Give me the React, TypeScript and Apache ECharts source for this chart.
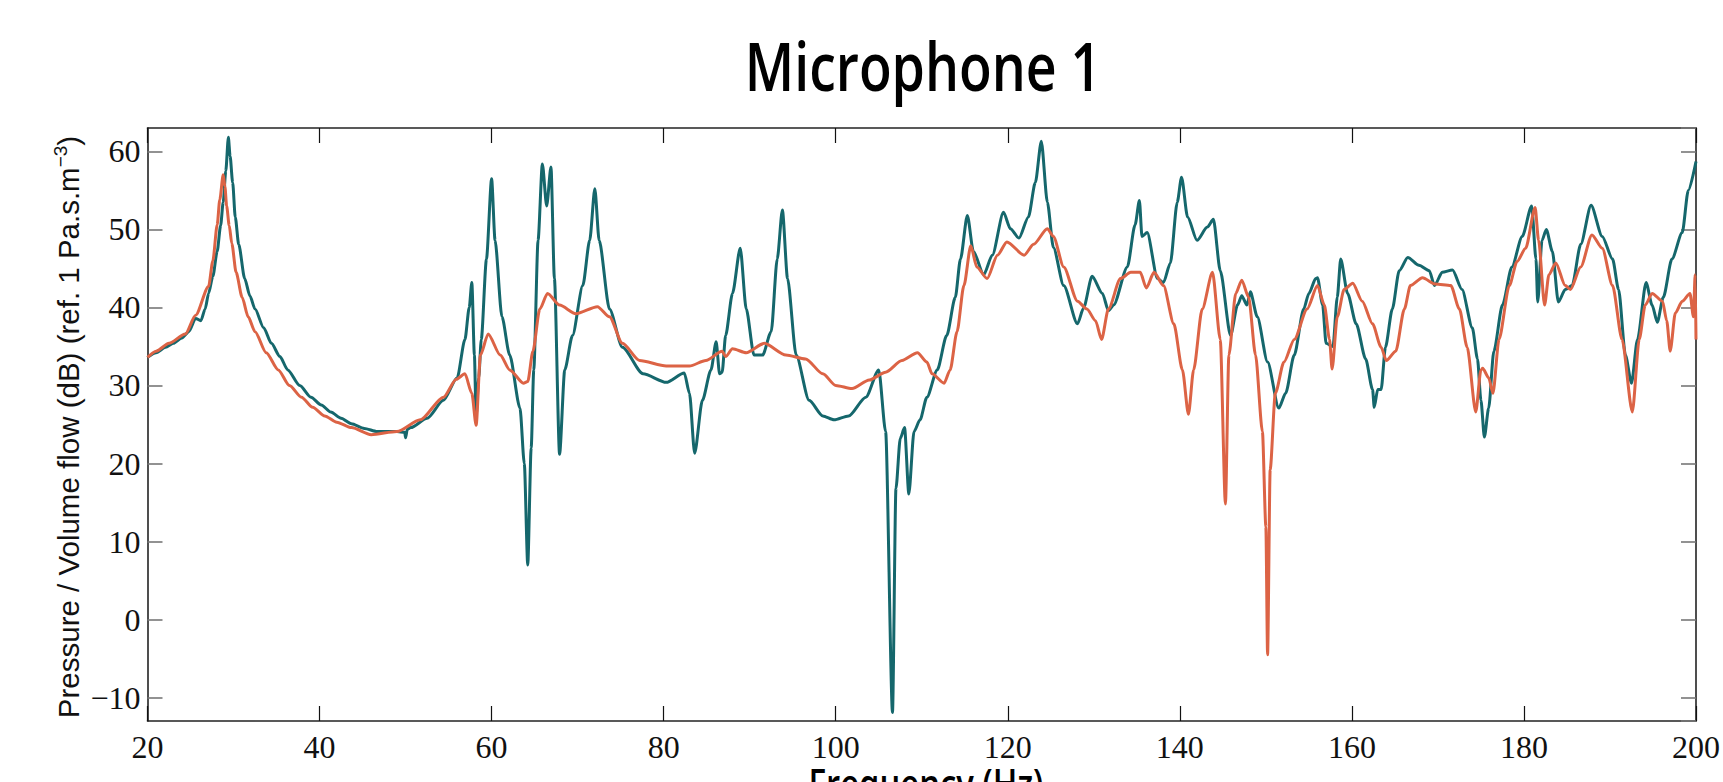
import React, { useEffect, useRef } from "react";
import * as echarts from "echarts";

// Frequency response, microphone 1 — two measured transfer functions (dB re 1 Pa.s.m^-3)
const tealFreq = [
  20.0, 21.0, 22.1, 23.0, 24.0, 24.8, 25.6, 26.2, 26.7, 27.1, 27.6, 28.1, 28.5, 28.8, 29.1, 29.4,
  29.6, 29.9, 30.2, 30.6, 31.3, 31.9, 32.5, 33.5, 34.4, 35.4, 36.3, 37.7, 39.0, 40.2, 41.3, 42.5,
  43.7, 45.2, 46.7, 49.0, 49.9, 50.0, 50.2, 50.6, 52.5, 54.4, 56.0, 56.9, 57.4,
  57.7, 58.0, 58.2, 58.5, 58.8, 59.4, 60.0, 60.4, 61.2, 62.1, 63.3, 63.8, 64.2, 64.6, 64.9, 65.4,
  65.9, 66.4, 66.9, 67.3, 67.9, 68.5, 69.4, 70.6, 71.4, 72.0, 72.5, 73.7, 75.2, 77.6, 80.3, 82.4,
  83.0, 83.6, 84.5, 85.5, 86.1, 86.5, 86.8, 87.2, 88.0, 88.9, 89.6, 90.5, 91.5, 92.5, 93.2, 93.8,
  94.4, 95.4, 96.9, 98.5, 99.8, 101.5, 103.5, 105.0, 105.8, 106.6, 107.0, 107.5, 108.0, 108.5, 109.1, 109.8,
  110.6, 111.8, 112.9, 113.9, 114.5, 115.3, 116.0, 117.2, 118.2, 119.5, 120.3, 121.3, 122.4, 123.2, 123.9, 124.6,
  125.3, 126.5, 128.1, 128.8, 129.8, 131.0, 131.7, 132.3, 133.9, 134.8, 135.3, 135.6, 136.2, 137.4, 138.1, 138.9,
  139.7, 140.2, 140.9, 142.0, 143.2, 143.9, 144.7, 145.9, 146.7, 147.2, 147.8, 148.2, 149.0, 150.2, 151.5, 152.3,
  153.3, 154.4, 155.0, 155.8, 156.0, 156.6, 157.0, 157.8, 158.3, 158.7, 159.5, 160.5, 161.6, 162.4, 162.6, 163.0,
  163.4, 163.9, 164.7, 165.5, 166.5, 167.8, 169.0, 169.6, 170.5, 171.7, 172.8, 174.0, 174.6, 175.0, 175.4, 175.9,
  176.5, 177.5, 178.6, 179.8, 180.9, 181.4, 181.6, 182.1, 182.6, 183.3, 184.0, 184.8, 185.6, 186.6, 187.8, 189.1,
  190.3, 191.0, 191.8, 192.5, 193.2, 194.2, 194.9, 195.5, 196.2, 197.2, 198.4, 199.1, 200.0,
];
const tealDb = [
  33.6, 34.2, 34.9, 35.4, 36.1, 36.9, 38.6, 38.3, 39.8, 41.8, 44.0, 47.2, 50.5, 53.5, 57.5, 61.8,
  59.4, 56.0, 51.6, 48.1, 43.7, 41.5, 39.8, 37.4, 35.4, 33.7, 32.0, 30.0, 28.5, 27.5, 26.6, 25.8,
  25.1, 24.5, 24.1, 24.1, 24.0, 23.3, 24.4, 24.6, 25.8, 28.1, 31.0, 35.9, 40.0,
  43.2, 33.9, 26.0, 31.0, 35.9, 46.2, 56.5, 48.6, 38.8, 33.9, 27.1, 20.0, 7.0, 22.0, 32.0, 48.6,
  58.4, 53.0, 58.0, 43.7, 21.2, 32.0, 36.4, 42.8, 48.6, 55.2, 48.6, 39.8, 34.9, 31.5, 30.4, 31.6,
  29.0, 21.3, 28.1, 32.0, 35.6, 31.5, 31.7, 36.4, 41.8, 47.6, 39.8, 33.9, 33.9, 36.9, 46.2, 52.5,
  43.7, 33.9, 28.1, 26.1, 25.6, 26.1, 28.5, 32.0, 24.1, -11.9, 16.8, 23.2, 24.6, 16.1, 24.1, 25.6,
  28.5, 32.0, 36.4, 41.3, 46.2, 51.8, 47.2, 44.2, 46.7, 52.2, 50.1, 48.9, 51.6, 56.0, 61.3, 53.5,
  47.7, 42.8, 37.9, 39.9, 44.0, 41.8, 39.6, 40.3, 45.2, 50.6, 53.7, 49.1, 49.6, 43.7, 43.2, 45.7,
  53.5, 56.7, 51.6, 48.6, 50.3, 51.3, 44.7, 36.4, 40.3, 41.5, 40.3, 42.0, 38.8, 33.0, 27.1, 29.0,
  33.9, 39.8, 41.8, 43.7, 43.8, 40.3, 35.4, 35.0, 41.3, 46.2, 41.8, 37.9, 33.4, 29.5, 27.2, 29.5,
  29.5, 34.9, 39.8, 44.7, 46.4, 45.4, 44.7, 42.8, 44.5, 44.8, 42.3, 37.4, 33.4, 28.1, 23.4, 27.1,
  34.4, 40.3, 45.2, 49.1, 53.0, 46.2, 40.7, 48.6, 50.0, 47.2, 40.7, 42.3, 42.8, 48.1, 53.1, 49.1,
  46.2, 42.3, 33.9, 30.3, 35.9, 43.2, 40.3, 38.1, 41.3, 46.2, 49.6, 55.0, 58.7,
];

const orangeFreq = [
  20.0, 21.0, 22.5, 24.4, 25.6, 27.1, 27.6, 28.1, 28.4, 28.8, 29.0, 29.2, 29.5, 29.8, 30.3, 31.0,
  31.7, 32.5, 33.8, 35.2, 36.5, 37.9, 39.2, 40.6, 42.0, 43.7,
  46.0, 49.0, 51.7, 54.4, 55.9, 56.9, 57.7, 58.2, 58.7, 59.6, 61.0, 62.1, 63.7, 64.2, 64.8, 65.6,
  66.5, 67.9, 69.8, 72.3, 73.7, 75.2, 77.2, 80.3, 83.0, 84.9, 86.8, 87.2, 88.0, 89.6, 91.7, 94.2,
  96.5, 98.5, 100.0, 101.9, 103.9, 105.8, 107.7, 109.5, 110.6, 111.2, 112.6, 113.3, 114.1, 114.9, 115.7, 116.4,
  117.6, 118.8, 119.9, 121.9, 123.0, 124.6, 125.3, 126.5, 128.1, 129.2, 130.2, 130.9, 131.7, 133.1, 134.3, 135.4,
  136.1, 137.0, 138.1, 139.3, 140.3, 141.0, 141.6, 142.6, 143.8, 144.7, 145.3, 145.7, 146.5, 147.2, 148.0, 148.8,
  149.6, 150.0, 150.2, 150.5, 151.1, 152.1, 153.3, 154.8, 156.0, 156.8, 157.4, 157.7, 158.3, 159.1, 160.1, 161.2,
  162.4, 163.4, 164.0, 165.1, 166.1, 166.8, 168.2, 169.7, 171.5, 172.5, 173.4, 174.4, 175.0, 175.2, 175.9, 176.4,
  177.1, 178.3, 179.2, 180.2, 181.3, 181.7, 182.4, 182.9, 183.7, 184.8, 185.4, 186.6, 187.9, 189.1, 190.3, 191.4,
  192.6, 193.4, 194.1, 194.9, 196.1, 196.6, 197.0, 197.6, 198.4, 199.3, 199.7, 199.9, 200.0,
];
const orangeDb = [
  33.6, 34.4, 35.4, 36.6, 39.0, 42.7, 46.0, 50.6, 53.8, 57.0, 55.5, 53.0, 50.5, 48.2, 44.5, 41.3,
  38.8, 36.9, 34.2, 32.0, 30.0, 28.5, 27.2, 26.1, 25.3, 24.6,
  23.7, 24.1, 25.6, 28.5, 30.8, 31.5, 29.0, 24.9, 33.9, 36.6, 33.9, 32.0, 30.3, 30.5, 34.4, 39.8,
  41.8, 40.3, 39.2, 40.1, 38.8, 35.4, 33.2, 32.5, 32.5, 33.2, 34.4, 33.7, 34.7, 34.2, 35.4, 33.9,
  33.4, 31.5, 30.0, 29.6, 30.7, 31.7, 33.2, 34.2, 33.0, 31.5, 30.3, 32.0, 36.9, 42.8, 47.9, 45.2,
  43.7, 46.7, 48.4, 46.7, 48.1, 50.1, 49.1, 45.2, 40.8, 39.8, 38.3, 35.9, 39.8, 43.7, 44.5, 44.5,
  42.5, 44.5, 42.8, 37.9, 32.0, 26.3, 32.0, 39.8, 44.5, 35.9, 14.8, 33.9, 41.8, 43.5, 41.3, 33.9,
  24.1, 11.9, -4.5, 19.2, 29.0, 33.0, 35.9, 39.8, 42.8, 40.3, 35.9, 32.1, 38.8, 42.3, 43.1, 40.8,
  37.9, 34.9, 33.2, 34.4, 39.8, 42.8, 43.8, 43.0, 42.8, 39.8, 34.9, 26.6, 32.0, 32.2, 31.0, 29.0,
  35.9, 42.8, 45.9, 47.6, 52.8, 48.6, 40.3, 44.2, 45.7, 42.8, 42.3, 45.2, 49.3, 47.6, 42.8, 35.9,
  26.6, 35.9, 40.3, 41.8, 40.8, 38.3, 34.4, 39.3, 40.8, 41.8, 38.8, 44.2, 35.9,
];

const TEAL = "#15676c";
const ORANGE = "#dc6345";
const SERIF = "'Liberation Serif', 'Times New Roman', serif";
const SANS = "'Liberation Sans', Arial, sans-serif";
const TITLE_FONT = "'Open Sans', 'Noto Sans', sans-serif";

const pairs = (xs: number[], ys: number[]) => xs.map((x, i) => [x, ys[i]]);
const fmtTick = (v: number) => (v < 0 ? "\u2212" + Math.abs(v) : String(v));

export default function App() {
  const ref = useRef<HTMLDivElement | null>(null);

  useEffect(() => {
    if (!ref.current) return;
    const chart = echarts.init(ref.current, null, { renderer: "svg" });

    const frameLine = { show: true, onZero: false, lineStyle: { color: "#222", width: 1.6 } };
    const xTick = { show: true, inside: true, length: 15, lineStyle: { color: "#111", width: 1.2 } };
    const yTick = { show: true, inside: true, length: 15, lineStyle: { color: "#777", width: 1.6 } };

    const curve = (name: string, xs: number[], ys: number[], color: string, z: number) => ({
      type: "line",
      name,
      data: pairs(xs, ys),
      showSymbol: false,
      symbol: "none",
      smooth: 0.25,
      smoothMonotone: "x",
      lineStyle: { color, width: 3 },
      itemStyle: { color },
      z,
    });

    chart.setOption({
      animation: false,
      backgroundColor: "#ffffff",
      grid: { left: 147.5, right: 19.5, top: 128, bottom: 61, containLabel: false },
      xAxis: [
        {
          type: "value",
          position: "bottom",
          min: 20,
          max: 200,
          interval: 20,
          axisLine: frameLine,
          axisTick: xTick,
          splitLine: { show: false },
          axisLabel: { fontFamily: SERIF, fontSize: 32, color: "#111", margin: 10, formatter: fmtTick },
        },
        {
          type: "value",
          position: "top",
          min: 20,
          max: 200,
          interval: 20,
          axisLine: frameLine,
          axisTick: xTick,
          splitLine: { show: false },
          axisLabel: { show: false },
        },
      ],
      yAxis: [
        {
          type: "value",
          position: "left",
          min: -13,
          max: 63,
          splitNumber: 8,
          minInterval: 10,
          maxInterval: 10,
          axisLine: frameLine,
          axisTick: yTick,
          splitLine: { show: false },
          axisLabel: {
            fontFamily: SERIF,
            fontSize: 32,
            color: "#111",
            margin: 7,
            showMinLabel: false,
            showMaxLabel: false,
            formatter: fmtTick,
          },
        },
        {
          type: "value",
          position: "right",
          min: -13,
          max: 63,
          splitNumber: 8,
          minInterval: 10,
          maxInterval: 10,
          axisLine: frameLine,
          axisTick: yTick,
          splitLine: { show: false },
          axisLabel: { show: false },
        },
      ],
      series: [
        curve("teal", tealFreq, tealDb, TEAL, 2),
        curve("orange", orangeFreq, orangeDb, ORANGE, 3),
      ],
      graphic: [
        {
          type: "text",
          x: 923,
          y: 65,
          scaleX: 0.8,
          style: {
            text: "Microphone 1",
            fontFamily: TITLE_FONT,
            fontSize: 67,
            fontWeight: 600,
            fill: "#000",
            align: "center",
            verticalAlign: "middle",
            textAlign: "center",
            textVerticalAlign: "middle",
          },
        },
        {
          type: "text",
          x: 926,
          y: 783,
          scaleX: 0.8,
          style: {
            text: "Frequency (Hz)",
            fontFamily: TITLE_FONT,
            fontSize: 41,
            fontWeight: 600,
            fill: "#000",
            align: "center",
            verticalAlign: "middle",
            textAlign: "center",
            textVerticalAlign: "middle",
          },
        },
        {
          type: "text",
          x: 68,
          y: 427,
          rotation: Math.PI / 2,
          style: {
            text: "{a|Pressure / Volume flow (dB) (ref. 1 Pa.s.m}{s|\u22123}{a|)}",
            align: "center",
            verticalAlign: "middle",
            textAlign: "center",
            textVerticalAlign: "middle",
            rich: {
              a: { fontFamily: SANS, fontSize: 29.5, fill: "#111", lineHeight: 34 },
              s: { fontFamily: SANS, fontSize: 19, fill: "#111", verticalAlign: "top", lineHeight: 34 },
            },
          },
        },
      ],
    });

    return () => chart.dispose();
  }, []);

  return (
    <div
      ref={ref}
      style={{ position: "absolute", left: 0, top: 0, width: 1723, height: 782, background: "#fff" }}
    />
  );
}
